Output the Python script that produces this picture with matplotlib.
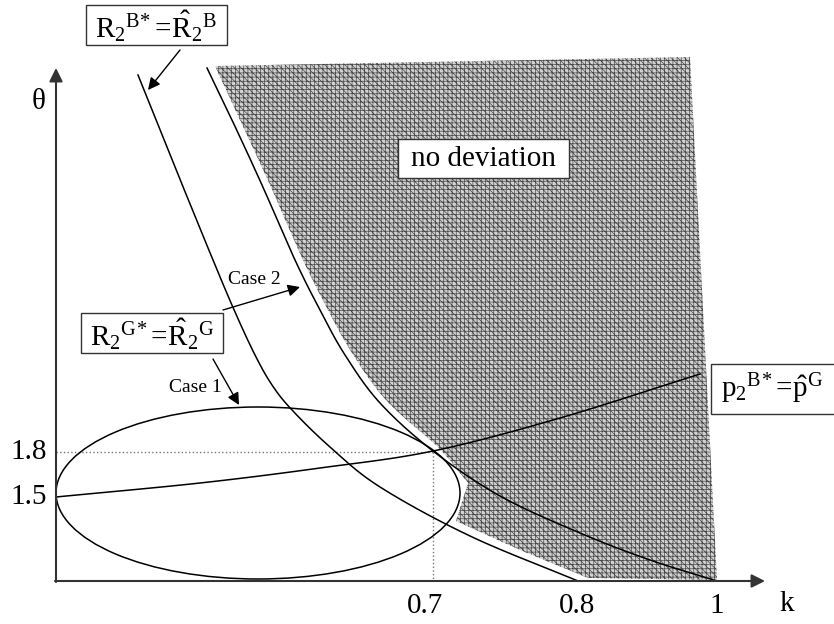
import matplotlib
matplotlib.use("Agg")
import numpy as np
import matplotlib.pyplot as plt
from matplotlib.patches import Polygon, Ellipse, Rectangle

plt.rcParams['font.family'] = ['Liberation Serif', 'DejaVu Serif']
plt.rcParams['mathtext.fontset'] = 'custom'
plt.rcParams['mathtext.rm'] = 'Liberation Serif'
plt.rcParams['mathtext.it'] = 'Liberation Serif:italic'
plt.rcParams['hatch.linewidth'] = 0.5

# ---- schematic data (diagram units, y grows downward) ----
origin = (56, 581)
x_axis_end = 765
y_axis_end = 68

xtick_pos = [425, 577, 717]
xtick_labels = ['0.7', '0.8', '1']
ytick_pos = [452, 497]
ytick_labels = ['1.8', '1.5']

ref_k = 433      # k = 0.7
ref_theta = 452  # theta = 1.8

# R2B* = R^2B curve
r2b_x = [138, 175, 213, 235, 255, 272, 292, 330, 380, 470, 578]
r2b_y = [75, 167, 260, 312, 355, 385, 410, 447, 487, 536, 581]

# R2G* = R^2G curve
r2g_x = [207, 232, 262, 295, 320, 345, 380, 433, 500, 580, 650, 717]
r2g_y = [68, 120, 185, 260, 310, 355, 403, 451, 496, 533, 560, 581]

# p2B* = p^G curve
p2b_x = [56, 200, 320, 433, 560, 700]
p2b_y = [497, 483, 468, 451, 418, 374]

# no-deviation region: left edge (smooth), then corner/lower edge, then right edge
shade_left_x = [215, 240, 270, 303, 328, 352, 386, 437]
shade_left_y = [66, 120, 185, 260, 310, 353, 400, 446]
shade_rest_x = [448, 468, 456, 520, 588, 717, 690]
shade_rest_y = [458, 483, 521, 550, 578, 580, 57]

# Case 1 ellipse
ell_center = (258, 493)
ell_w, ell_h = 404, 172


def smooth(xs, ys, n=20):
    """Catmull-Rom curve through the given points (for drawing only)."""
    p = np.column_stack([xs, ys]).astype(float)
    p = np.vstack([2 * p[0] - p[1], p, 2 * p[-1] - p[-2]])
    out = []
    t = np.linspace(0, 1, n, endpoint=False)[:, None]
    for i in range(1, len(p) - 2):
        p0, p1, p2, p3 = p[i - 1], p[i], p[i + 1], p[i + 2]
        seg = 0.5 * ((2 * p1) + (-p0 + p2) * t + (2 * p0 - 5 * p1 + 4 * p2 - p3) * t ** 2
                     + (-p0 + 3 * p1 - 3 * p2 + p3) * t ** 3)
        out.append(seg)
    out.append(p[-2][None, :])
    out = np.vstack(out)
    return out[:, 0], out[:, 1]


fig = plt.figure(figsize=(8.34, 6.24), dpi=100)
ax = fig.add_axes([0, 0, 1, 1])
ax.set_xlim(0, 834)
ax.set_ylim(624, 0)
ax.axis('off')

# shaded region
lx, ly = smooth(shade_left_x, shade_left_y)
verts = list(zip(lx, ly)) + list(zip(shade_rest_x, shade_rest_y))
poly = Polygon(verts, closed=True, facecolor='#d2d2d2',
               edgecolor='#4a4a4a', linewidth=0, hatch='++++' + '\\' * 5, zorder=1)
ax.add_patch(poly)

# dotted reference lines
ax.plot([origin[0], ref_k], [ref_theta, ref_theta], color='#777777', ls=':', lw=1, zorder=2)
ax.plot([ref_k, ref_k], [ref_theta, origin[1]], color='#777777', ls=':', lw=1, zorder=2)

# curves
for xs, ys in [(r2b_x, r2b_y), (r2g_x, r2g_y), (p2b_x, p2b_y)]:
    sx, sy = smooth(xs, ys)
    ax.plot(sx, sy, color='black', lw=1.1, zorder=3)
ax.add_patch(Ellipse(ell_center, ell_w, ell_h, fill=False, edgecolor='black', lw=1.1, zorder=3))

# axes with arrows
axis_color = '#333333'
ax.annotate('', xy=(x_axis_end, origin[1]), xytext=(origin[0] - 1, origin[1]),
            arrowprops=dict(arrowstyle='-|>', color=axis_color, lw=1.5,
                            mutation_scale=20, shrinkA=0, shrinkB=0), zorder=4)
ax.annotate('', xy=(origin[0], y_axis_end), xytext=(origin[0], origin[1] + 1),
            arrowprops=dict(arrowstyle='-|>', color=axis_color, lw=1.5,
                            mutation_scale=20, shrinkA=0, shrinkB=0), zorder=4)

fs = 21
for p, l in zip(xtick_pos, xtick_labels):
    ax.text(p, 606, l, ha='center', va='center', fontsize=fs)
for p, l in zip(ytick_pos, ytick_labels):
    ax.text(47, p, l, ha='right', va='center', fontsize=fs)
ax.text(787, 604, 'k', ha='center', va='center', fontsize=fs)
ax.text(39, 102, 'θ', ha='center', va='center', fontsize=fs)


def box(x0, y0, x1, y1):
    ax.add_patch(Rectangle((x0, y0), x1 - x0, y1 - y0, facecolor='white',
                           edgecolor='#333333', lw=1.0, zorder=5, clip_on=False))


box(86, 5, 227, 45)
ax.text(156, 26, r'$\mathrm{R_2{}^{B\!*}\!=\!\hat{R}_2{}^{B}}$', ha='center', va='center',
        fontsize=fs, zorder=6)
box(81, 313, 223, 353)
ax.text(152, 334, r'$\mathrm{R_2{}^{G\!*}\!=\!\hat{R}_2{}^{G}}$', ha='center', va='center',
        fontsize=fs, zorder=6)
box(398, 139, 569, 178)
ax.text(484, 159, 'no deviation', ha='center', va='center', fontsize=fs, zorder=6)
box(711, 364, 840, 414)
ax.text(721, 389, r'$\mathrm{p_2{}^{B\!*}\!=\!\hat{p}^{G}}$', ha='left', va='center',
        fontsize=fs, zorder=6)

# small labels and arrows
ax.text(254, 280, 'Case 2', ha='center', va='center', fontsize=14, zorder=6)
ax.text(195, 387, 'Case 1', ha='center', va='center', fontsize=14, zorder=6)

arrow_kw = dict(arrowstyle='-|>', color='black', lw=1.0, mutation_scale=18, shrinkA=0, shrinkB=0)
ax.annotate('', xy=(148, 90), xytext=(180, 50), arrowprops=arrow_kw, zorder=6)
ax.annotate('', xy=(300, 287), xytext=(223, 310), arrowprops=arrow_kw, zorder=6)
ax.annotate('', xy=(239, 405), xytext=(213, 359), arrowprops=arrow_kw, zorder=6)

fig.savefig('out.png', dpi=100)
